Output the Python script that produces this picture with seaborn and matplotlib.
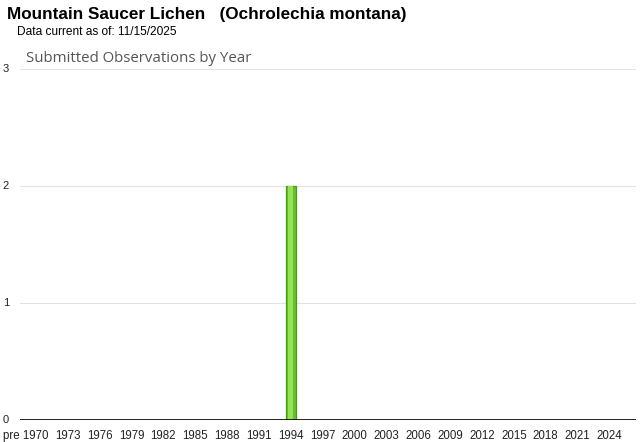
import matplotlib
matplotlib.use("Agg")
import matplotlib.pyplot as plt
import seaborn as sns
import pandas as pd

# categories: first bucket is everything before 1970, then one per year
categories = ["pre 1970"] + [str(y) for y in range(1970, 2027)]
counts = [0,
          0, 0, 0, 0, 0, 0, 0, 0, 0, 0,   # 1970-1979
          0, 0, 0, 0, 0, 0, 0, 0, 0, 0,   # 1980-1989
          0, 0, 0, 0, 2, 0, 0, 0, 0, 0,   # 1990-1999
          0, 0, 0, 0, 0, 0, 0, 0, 0, 0,   # 2000-2009
          0, 0, 0, 0, 0, 0, 0, 0, 0, 0,   # 2010-2019
          0, 0, 0, 0, 0, 0, 0]            # 2020-2026
tick_labels = ["pre 1970"] + [str(y) for y in range(1973, 2025, 3)]

title = "Mountain Saucer Lichen   (Ochrolechia montana)"
subtitle = "Data current as of: 11/15/2025"
chart_title = "Submitted Observations by Year"

df = pd.DataFrame({"year": categories, "count": counts})

sns.set_style("white")
plt.rcParams["font.family"] = ["Liberation Sans", "DejaVu Sans"]

fig = plt.figure(figsize=(6.4, 4.42), dpi=100)
ax = fig.add_axes([20 / 640, 22 / 442, 616 / 640, 351 / 442])

# outer bar plus a lighter inner strip to mimic the glossy gradient
sns.barplot(data=df, x="year", y="count", order=categories, ax=ax,
            color="#66c22a", edgecolor="#4a9a1a", linewidth=0.9,
            width=0.95, saturation=1)
sns.barplot(data=df, x="year", y="count", order=categories, ax=ax,
            color="#96e257", linewidth=0, width=0.45, saturation=1)

ax.set_ylim(0, 3)
ax.set_xlim(-0.5, len(categories) - 0.5)
ax.set_yticks([0, 1, 2, 3])
ax.yaxis.grid(True, color="#e2e2e2", linewidth=0.8)
ax.set_axisbelow(True)
ax.axhline(0, color="black", linewidth=1.2, zorder=5)

tick_pos = [categories.index(t) for t in tick_labels]
ax.set_xticks(tick_pos)
ax.set_xticklabels(tick_labels, fontsize=8.3, color="#222222")
ax.tick_params(axis="x", length=4, color="#cccccc", pad=3, direction="out")
ax.tick_params(axis="y", length=0, pad=8, labelsize=8, labelcolor="#222222")
for lab in ax.get_yticklabels():
    lab.set_verticalalignment("center")
ax.set_xlabel("")
ax.set_ylabel("")
for s in ax.spines.values():
    s.set_visible(False)

fig.text(7 / 640, 1 - 15 / 442, title, fontsize=12.3, fontweight="bold",
         va="center", ha="left", color="black")
fig.text(17 / 640, 1 - 32 / 442, subtitle, fontsize=8.6,
         va="center", ha="left", color="black")
fig.text(26 / 640, 1 - 58 / 442, chart_title, fontsize=10.8,
         family=["Open Sans", "DejaVu Sans"], va="center", ha="left",
         color="#555555")

fig.savefig("out.png", dpi=100)
